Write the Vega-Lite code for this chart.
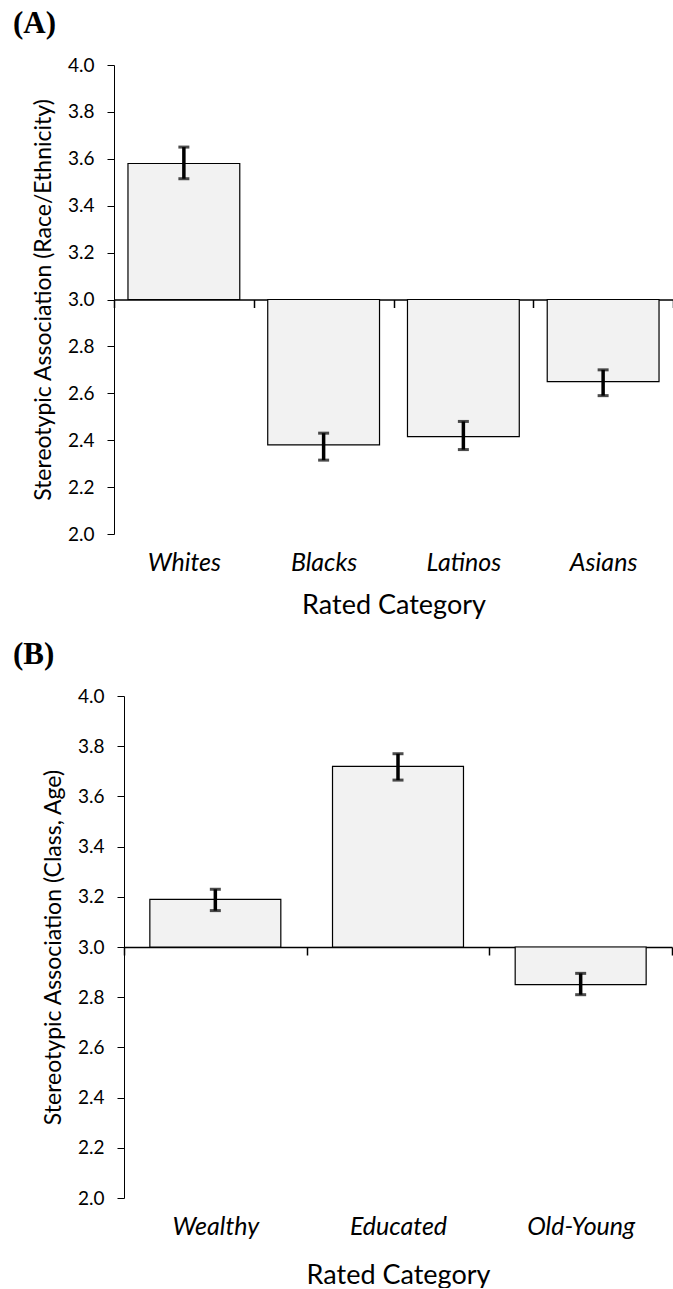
{
  "$schema": "https://vega.github.io/schema/vega-lite/v6.json",
  "padding": {"left": 13, "top": 8, "right": 0, "bottom": 0},
  "background": "white",
  "config": {
    "view": {"stroke": null},
    "font": "Lato",
    "axis": {
      "grid": false,
      "domainColor": "black",
      "tickColor": "black",
      "labelColor": "black",
      "titleColor": "black",
      "labelFont": "Lato",
      "titleFont": "Lato",
      "titleFontWeight": "normal",
      "zindex": 1
    },
    "title": {"font": "Liberation Serif", "fontWeight": "bold", "fontSize": 31, "color": "black", "anchor": "start", "frame": "group"}
  },
  "columns": 1,
  "spacing": 20,
  "concat": [
    {
      "title": {"text": "(A)", "dx": -101, "offset": 16},
      "width": 559,
      "height": 469,
      "data": {
        "values": [
          {"category": "Whites", "mean": 3.58, "lo": 3.515, "hi": 3.65},
          {"category": "Blacks", "mean": 2.38, "lo": 2.315, "hi": 2.43},
          {"category": "Latinos", "mean": 2.415, "lo": 2.36, "hi": 2.48},
          {"category": "Asians", "mean": 2.65, "lo": 2.59, "hi": 2.7}
        ]
      },
      "layer": [
        {
          "mark": {"type": "bar", "fill": "#f2f2f2", "stroke": "black", "strokeWidth": 1.2, "width": {"band": 0.8}},
          "encoding": {
            "x": {
              "field": "category", "type": "nominal", "sort": null, "title": "Rated Category",
              "scale": {"paddingInner": 0, "paddingOuter": 0},
              "axis": {
                "orient": "bottom", "offset": -234.5, "tickBand": "extent", "tickSize": 8,
                "tickWidth": 1.5, "domainWidth": 1.5, "labelAngle": 0,
                "labelFontStyle": "italic", "labelFontSize": 25, "labelPadding": 243,
                "titleFontSize": 27, "titleBaseline": "alphabetic", "titleY": 314
              }
            },
            "y": {
              "field": "mean", "type": "quantitative", "title": "Stereotypic Association (Race/Ethnicity)",
              "scale": {"domain": [2, 4], "zero": false, "nice": false},
              "axis": {
                "values": [2, 2.2, 2.4, 2.6, 2.8, 3, 3.2, 3.4, 3.6, 3.8, 4],
                "format": ".1f", "tickSize": 7, "labelPadding": 13, "labelFontSize": 19,
                "titleFontSize": 23, "titlePadding": 12
              }
            },
            "y2": {"datum": 3}
          }
        },
        {
          "mark": {"type": "errorbar", "color": "black", "ticks": {"size": 11, "thickness": 3}, "rule": {"strokeWidth": 3.5}},
          "encoding": {
            "x": {"field": "category", "type": "nominal", "sort": null, "title": "Rated Category"},
            "y": {"field": "lo", "type": "quantitative", "title": "Stereotypic Association (Race/Ethnicity)"},
            "y2": {"field": "hi"}
          }
        }
      ]
    },
    {
      "title": {"text": "(B)", "dx": -101, "offset": 16},
      "width": 559,
      "height": 502,
      "data": {
        "values": [
          {"category": "Wealthy", "mean": 3.19, "lo": 3.145, "hi": 3.23},
          {"category": "Educated", "mean": 3.72, "lo": 3.665, "hi": 3.77},
          {"category": "Old-Young", "mean": 2.85, "lo": 2.81, "hi": 2.895}
        ]
      },
      "layer": [
        {
          "mark": {"type": "bar", "fill": "#f2f2f2", "stroke": "black", "strokeWidth": 1.2, "width": {"band": 0.717}},
          "encoding": {
            "x": {
              "field": "category", "type": "nominal", "sort": null, "title": "Rated Category",
              "scale": {"paddingInner": 0, "paddingOuter": 0, "range": [10, 558]},
              "axis": {
                "orient": "bottom", "offset": -251, "tickBand": "extent", "tickSize": 8,
                "tickWidth": 1.5, "domainWidth": 1.5, "labelAngle": 0,
                "labelFontStyle": "italic", "labelFontSize": 25, "labelPadding": 259,
                "titleFontSize": 27, "titleBaseline": "alphabetic", "titleY": 336
              }
            },
            "y": {
              "field": "mean", "type": "quantitative", "title": "Stereotypic Association (Class, Age)",
              "scale": {"domain": [2, 4], "zero": false, "nice": false},
              "axis": {
                "offset": -10,
                "values": [2, 2.2, 2.4, 2.6, 2.8, 3, 3.2, 3.4, 3.6, 3.8, 4],
                "format": ".1f", "tickSize": 7, "labelPadding": 13, "labelFontSize": 19,
                "titleFontSize": 23, "titlePadding": 12
              }
            },
            "y2": {"datum": 3}
          }
        },
        {
          "mark": {"type": "errorbar", "color": "black", "ticks": {"size": 11, "thickness": 3}, "rule": {"strokeWidth": 3.5}},
          "encoding": {
            "x": {"field": "category", "type": "nominal", "sort": null, "title": "Rated Category"},
            "y": {"field": "lo", "type": "quantitative", "title": "Stereotypic Association (Class, Age)"},
            "y2": {"field": "hi"}
          }
        }
      ]
    }
  ]
}
